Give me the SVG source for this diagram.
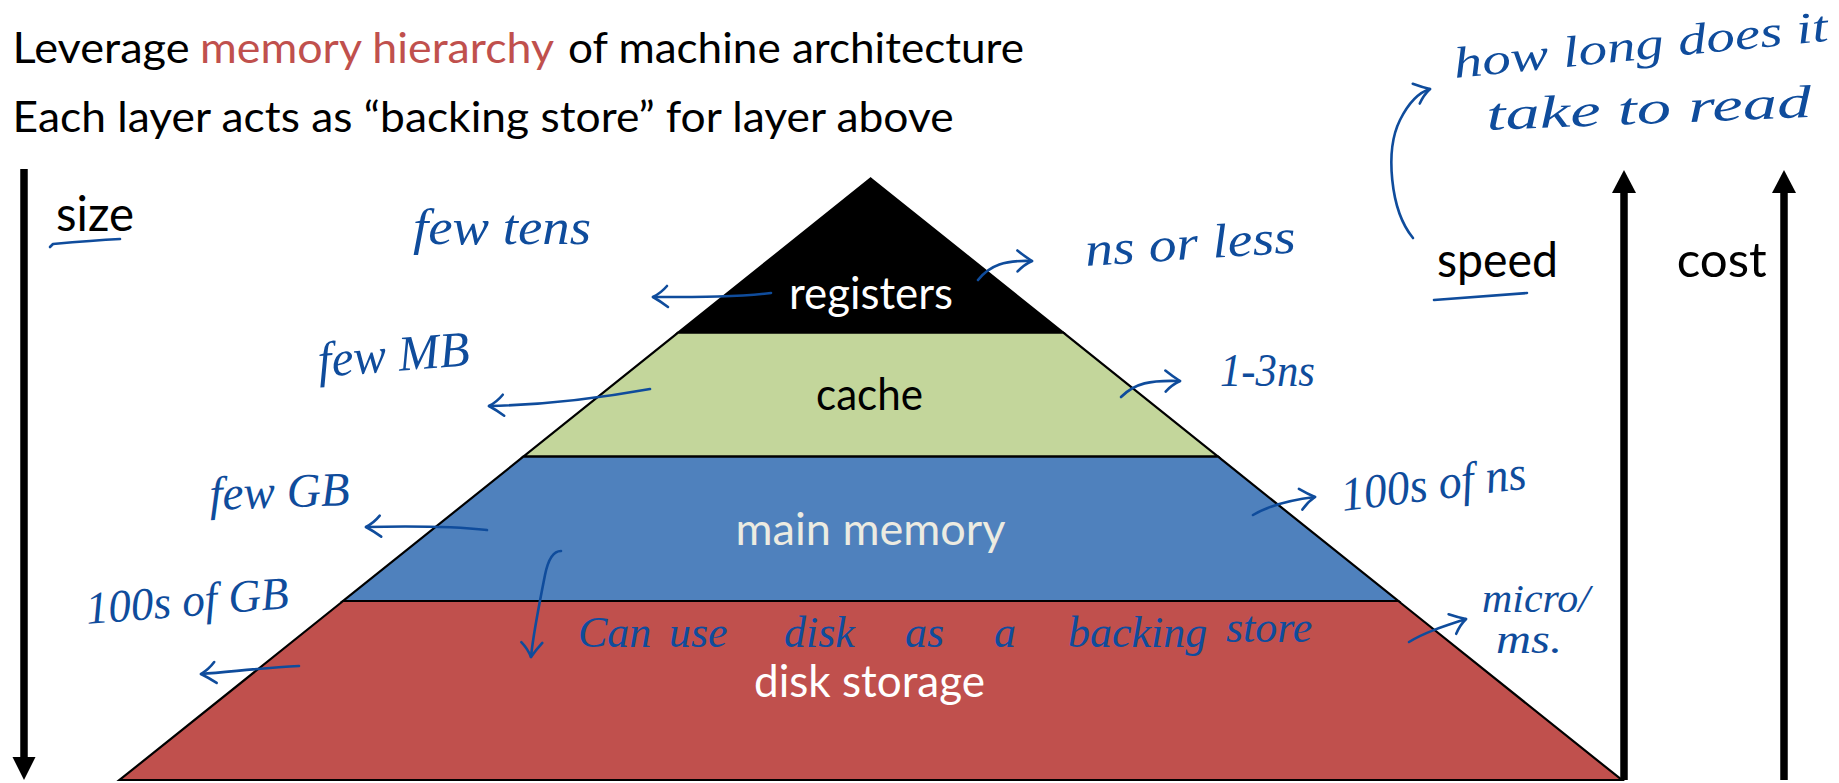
<svg xmlns="http://www.w3.org/2000/svg" width="1839" height="783" viewBox="0 0 1839 783">
  <style>
    .sans { font-family: Lato, "Open Sans", "Liberation Sans", sans-serif; }
    .title { font-size: 43px; fill: #000; }
    .hl { fill: #c0504d; }
    .axis-label { font-size: 48px; fill: #000; }
    .layer { stroke: #000; stroke-width: 2.2; stroke-linejoin: miter; }
    .layer-label { font-size: 44px; }
    .ink-text { font-family: "Liberation Serif", "DejaVu Serif", serif; font-style: italic; fill: #0f4c9c; }
    .ink { fill: none; stroke: #0f4c9c; stroke-width: 2.6; stroke-linecap: round; stroke-linejoin: round; }
    .ink-arrow { marker-end: url(#ink-head); }
    .axis-line { stroke: #000; stroke-width: 7.5; }
  </style>
  <defs>
    <marker id="ink-head" markerUnits="userSpaceOnUse" markerWidth="30" markerHeight="30" viewBox="-25 -15 30 30" refX="0" refY="0" orient="auto">
      <path d="M-15,-10 Q-7,-4 0,0 Q-8,4 -14,11" fill="none" stroke="#0f4c9c" stroke-width="2.6" stroke-linecap="round" stroke-linejoin="round"/>
    </marker>
  </defs>

  <rect width="1839" height="783" fill="#fff"/>

  <!-- heading -->
  <g id="title" class="sans title">
    <text x="12.6" y="63.3" textLength="177" lengthAdjust="spacingAndGlyphs">Leverage</text>
    <text x="200" y="63.3" class="hl" textLength="354" lengthAdjust="spacingAndGlyphs">memory hierarchy</text>
    <text x="568" y="63.3" textLength="456" lengthAdjust="spacingAndGlyphs">of machine architecture</text>
    <text x="12.6" y="131.7" textLength="941" lengthAdjust="spacingAndGlyphs">Each layer acts as “backing store” for layer above</text>
  </g>

  <!-- pyramid layers, top to bottom -->
  <g id="registers">
    <polygon class="layer" fill="#000000" points="870.7,178.5 1063.3,332.7 678.1,332.7"/>
    <text class="sans layer-label" x="789" y="309" fill="#ffffff" textLength="164" lengthAdjust="spacingAndGlyphs">registers</text>
  </g>
  <g id="cache">
    <polygon class="layer" fill="#c3d69b" points="678.1,332.7 1063.3,332.7 1218.1,456.7 523.3,456.7"/>
    <text class="sans layer-label" x="816" y="410" fill="#000000" textLength="107" lengthAdjust="spacingAndGlyphs">cache</text>
  </g>
  <g id="main-memory">
    <polygon class="layer" fill="#4f81bd" points="523.3,456.7 1218.1,456.7 1398.3,601 343.1,601"/>
    <text class="sans layer-label" x="735.5" y="545" fill="#ecebe1" textLength="270" lengthAdjust="spacingAndGlyphs">main memory</text>
  </g>
  <g id="disk-storage">
    <polygon class="layer" fill="#c0504d" points="343.1,601 1398.3,601 1621.9,780 119.5,780"/>
    <text class="sans layer-label" x="754" y="696.7" fill="#ffffff" textLength="231" lengthAdjust="spacingAndGlyphs">disk storage</text>
  </g>

  <!-- axes -->
  <g id="size-axis">
    <line class="axis-line" x1="24" y1="169" x2="24" y2="760"/>
    <polygon points="12.5,757 35.5,757 24,780" fill="#000"/>
    <text class="sans axis-label" x="56" y="230.7" textLength="78" lengthAdjust="spacingAndGlyphs">size</text>
  </g>
  <g id="speed-axis">
    <line class="axis-line" x1="1624" y1="190" x2="1624" y2="780"/>
    <polygon points="1612,193 1636,193 1624,170" fill="#000"/>
    <text class="sans axis-label" x="1437" y="276.7" textLength="121" lengthAdjust="spacingAndGlyphs">speed</text>
  </g>
  <g id="cost-axis">
    <line class="axis-line" x1="1784" y1="190" x2="1784" y2="780"/>
    <polygon points="1772,193 1796,193 1784,170" fill="#000"/>
    <text class="sans axis-label" x="1676.7" y="277" textLength="90" lengthAdjust="spacingAndGlyphs">cost</text>
  </g>

  <!-- pen strokes: underlines and arrows -->
  <g id="connectors">
    <path class="ink" d="M50,247 l3,-3 C75,242 100,240 120,239"/>
    <path class="ink" d="M1434,300 C1470,297 1500,295 1527,293"/>
    <path class="ink ink-arrow" d="M771,293 C740,297 700,297 653,297"/>
    <path class="ink ink-arrow" d="M650,389 C600,398 540,405 489,406"/>
    <path class="ink ink-arrow" d="M487,530 C450,526 410,526 366,527"/>
    <path class="ink ink-arrow" d="M299,666 C260,668 230,672 201,674"/>
    <path class="ink ink-arrow" d="M978,280 C990,265 1005,260 1032,261"/>
    <path class="ink ink-arrow" d="M1121,397 C1135,383 1150,380 1180,381"/>
    <path class="ink ink-arrow" d="M1253,515 C1270,505 1290,500 1315,497"/>
    <path class="ink ink-arrow" d="M1409,642 C1425,632 1445,626 1466,619"/>
    <path class="ink ink-arrow" d="M561,551 C553,551 548,560 545,575 C538,610 533,635 531,657"/>
    <path class="ink ink-arrow" d="M1413,238 C1390,210 1385,150 1400,120 C1410,100 1420,92 1430,89"/>
  </g>

  <!-- handwritten notes -->
  <g id="notes" class="ink-text">
    <text x="413" y="244" font-size="50" textLength="178" lengthAdjust="spacingAndGlyphs">few tens</text>
    <text x="319" y="377" font-size="50" textLength="152" lengthAdjust="spacingAndGlyphs" transform="rotate(-4.5 319 377)">few MB</text>
    <text x="210" y="510" font-size="48" textLength="140" lengthAdjust="spacingAndGlyphs" transform="rotate(-2 210 510)">few GB</text>
    <text x="87" y="624" font-size="46" textLength="203" lengthAdjust="spacingAndGlyphs" transform="rotate(-4.5 87 624)">100s of GB</text>
    <text x="1086" y="266" font-size="48" textLength="211" lengthAdjust="spacingAndGlyphs" transform="rotate(-3.7 1086 266)">ns or less</text>
    <text x="1220" y="386" font-size="46" textLength="95" lengthAdjust="spacingAndGlyphs">1-3ns</text>
    <text x="1343" y="511" font-size="48" textLength="186" lengthAdjust="spacingAndGlyphs" transform="rotate(-7 1343 511)">100s of ns</text>
    <text x="1482" y="612" font-size="40" textLength="108" lengthAdjust="spacingAndGlyphs">micro/</text>
    <text x="1496" y="653" font-size="40" textLength="66" lengthAdjust="spacingAndGlyphs">ms.</text>
    <text x="1455" y="78" font-size="44" textLength="376" lengthAdjust="spacingAndGlyphs" transform="rotate(-5.7 1455 78)">how long does it</text>
    <text x="1487" y="130" font-size="46" textLength="325" lengthAdjust="spacingAndGlyphs" transform="rotate(-2.3 1487 130)">take to read</text>
    <text y="647" font-size="44">
      <tspan x="578">Can</tspan>
      <tspan x="669">use</tspan>
      <tspan x="784">disk</tspan>
      <tspan x="905">as</tspan>
      <tspan x="994">a</tspan>
      <tspan x="1068">backing</tspan>
      <tspan x="1226" y="642">store</tspan>
    </text>
  </g>
</svg>
